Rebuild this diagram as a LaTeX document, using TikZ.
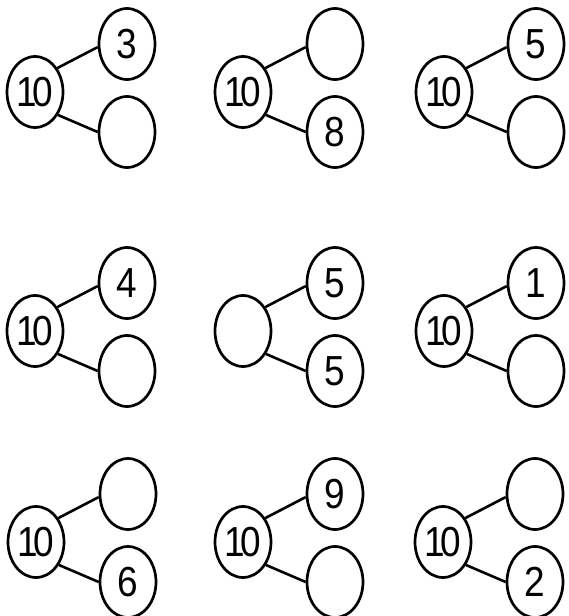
\documentclass[tikz,border=0pt]{standalone}
\usepackage{fontspec}
\usepackage{tikz}
\usetikzlibrary{shapes.geometric}
\newfontfamily\bondFont[FakeStretch=0.88, LetterSpace=-12]{Liberation Sans}
\tikzstyle{bondSheet} = [x = 1pt, y = -1pt]
\tikzstyle{bondCircle} = [draw, ellipse, line width=2.7pt, minimum width=56pt, minimum height=71pt, inner sep=0pt, font=\bondFont\fontsize{42}{42}\selectfont]
\tikzstyle{bondLine} = [line width=2.6pt]
\newcommand{\partShift}{92}
\newcommand{\numberBond}[6]{
  \node [bondCircle] (whole#1) at (#2, #3) {#4};
  \node [bondCircle] (top#1) at (#2 + \partShift, #3 - 48) {#5};
  \node [bondCircle] (bottom#1) at (#2 + \partShift, #3 + 40) {#6};
  \draw [bondLine] (whole#1.47) -- (top#1.186);
  \draw [bondLine] (whole#1.-45) -- (bottom#1.180);
}
\begin{document}
\begin{tikzpicture}[bondSheet]
\useasboundingbox (0,0) rectangle (569,616);
\numberBond{A}{35}{92}{10}{3}{}
\numberBond{B}{243}{92}{10}{}{8}
\numberBond{C}{444}{92}{10}{5}{}
\numberBond{D}{35}{331}{10}{4}{}
\numberBond{E}{243}{331}{}{5}{5}
\numberBond{F}{444}{331}{10}{1}{}
\numberBond{G}{36}{542}{10}{}{6}
\numberBond{H}{243}{542}{10}{9}{}
\numberBond{I}{443}{542}{10}{}{2}
\end{tikzpicture}
\end{document}
